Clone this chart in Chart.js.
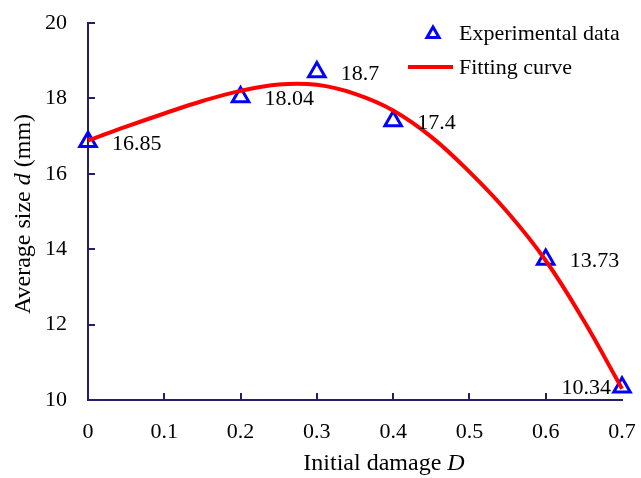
<!DOCTYPE html>
<html><head><meta charset="utf-8">
<script src="https://cdn.jsdelivr.net/npm/chart.js@4.4.1/dist/chart.umd.min.js"></script>
<style>html,body{margin:0;padding:0;background:#fff;}</style>
</head><body>
<canvas id="c" width="641" height="478"></canvas>
<script>
// ---- data ----
const damageX = [0, 0.2, 0.3, 0.4, 0.6, 0.7];
const sizeY = [16.85, 18.04, 18.7, 17.4, 13.73, 10.34];
const sizeLabels = ['16.85', '18.04', '18.7', '17.4', '13.73', '10.34'];
const fitX = [0, 0.05, 0.1, 0.15, 0.2, 0.25, 0.3, 0.35, 0.4, 0.45, 0.5, 0.55, 0.6, 0.65, 0.7];
const fitY = [16.88, 17.25, 17.6, 17.93, 18.2, 18.37, 18.36, 18.12, 17.68, 16.98, 16.05, 14.98, 13.7, 12.1, 10.3];
const xTicks = [0, 0.1, 0.2, 0.3, 0.4, 0.5, 0.6, 0.7];
const yTicks = [10, 12, 14, 16, 18, 20];
const seriesNames = ['Experimental data', 'Fitting curve'];

const AXIS = '#241f6c';
const SERIF = '"Liberation Serif", "Times New Roman", serif';

const decor = {
  id: 'decor',
  afterDraw(chart) {
    const ctx = chart.ctx;
    const xs = chart.scales.x, ys = chart.scales.y;
    const ca = chart.chartArea;
    ctx.save();
    // inward ticks
    ctx.strokeStyle = AXIS; ctx.lineWidth = 2;
    yTicks.forEach(v => {
      if (v === yTicks[0]) return;
      const py = Math.round(ys.getPixelForValue(v));
      ctx.beginPath(); ctx.moveTo(ca.left, py); ctx.lineTo(ca.left + 7, py); ctx.stroke();
    });
    xTicks.forEach(v => {
      if (v === xTicks[0] || v === xTicks[xTicks.length - 1]) return;
      const px = Math.round(xs.getPixelForValue(v));
      ctx.beginPath(); ctx.moveTo(px, ca.bottom); ctx.lineTo(px, ca.bottom - 7); ctx.stroke();
    });
    // point value labels
    ctx.fillStyle = '#000';
    ctx.font = '22px ' + SERIF;
    ctx.textBaseline = 'middle';
    const meta = chart.getDatasetMeta(1);
    meta.data.forEach((pt, i) => {
      const last = i === meta.data.length - 1;
      if (last) {
        ctx.textAlign = 'right';
        ctx.fillText(sizeLabels[i], pt.x - 11, pt.y + 1);
      } else {
        ctx.textAlign = 'left';
        ctx.fillText(sizeLabels[i], pt.x + 24, pt.y + 2);
      }
    });
    // legend
    const ds0 = chart.data.datasets[1], ds1 = chart.data.datasets[0];
    ctx.textAlign = 'left';
    ctx.strokeStyle = ds0.borderColor; ctx.lineWidth = 3;
    const tx = 433, ty = 34, r = 7;
    ctx.beginPath();
    for (let k = 0; k < 3; k++) {
      const a = k * 2 * Math.PI / 3;
      const X = tx + Math.sin(a) * r, Y = ty - Math.cos(a) * r;
      k === 0 ? ctx.moveTo(X, Y) : ctx.lineTo(X, Y);
    }
    ctx.closePath(); ctx.stroke();
    ctx.fillText(seriesNames[0], 459, 34);
    ctx.strokeStyle = ds1.borderColor; ctx.lineWidth = 4;
    ctx.beginPath(); ctx.moveTo(408, 67); ctx.lineTo(453, 67); ctx.stroke();
    ctx.fillText(seriesNames[1], 459, 68);
    // axis titles
    const itf = 'italic 24px ' + SERIF;
    const nf = '24px ' + SERIF;
    function mixed(parts, cx, cy) {
      let total = 0;
      parts.forEach(p => { ctx.font = p[1] ? itf : nf; total += ctx.measureText(p[0]).width; });
      let x = cx - total / 2;
      parts.forEach(p => { ctx.font = p[1] ? itf : nf; ctx.fillText(p[0], x, cy); x += ctx.measureText(p[0]).width; });
    }
    ctx.textAlign = 'left';
    mixed([['Initial damage ', false], ['D', true]], 384, 464);
    ctx.translate(24, 214);
    ctx.rotate(-Math.PI / 2);
    mixed([['Average size ', false], ['d', true], [' (mm)', false]], 0, 0);
    ctx.restore();
  }
};

function zeroPad(s) { s.paddingTop = 0; s.paddingBottom = 0; s.paddingLeft = 0; s.paddingRight = 0; }

new Chart(document.getElementById('c'), {
  type: 'scatter',
  data: {
    datasets: [
      {
        label: seriesNames[1],
        type: 'line',
        data: fitX.map((x, i) => ({ x: x, y: fitY[i] })),
        borderColor: '#ff0000',
        borderWidth: 4,
        pointRadius: 0,
        fill: false,
        tension: 0.4,
        clip: false,
        order: 0
      },
      {
        label: seriesNames[0],
        data: damageX.map((x, i) => ({ x: x, y: sizeY[i] })),
        pointStyle: 'triangle',
        pointRadius: 9.5,
        pointBorderWidth: 3,
        borderColor: '#0000ff',
        pointBorderColor: '#0000ff',
        pointBackgroundColor: 'rgba(0,0,0,0)',
        backgroundColor: 'rgba(0,0,0,0)',
        showLine: false,
        clip: false,
        order: 1
      }
    ]
  },
  options: {
    responsive: false,
    animation: false,
    devicePixelRatio: 1,
    layout: { padding: { left: 0, top: 23, right: 19, bottom: 0 } },
    plugins: { legend: { display: false }, tooltip: { enabled: false } },
    scales: {
      x: {
        type: 'linear', min: 0, max: 0.7,
        afterBuildTicks: s => { s.ticks = xTicks.map(v => ({ value: v })); },
        afterFit: s => { s.height = 78; zeroPad(s); },
        grid: { display: false, drawTicks: false },
        border: { display: true, color: AXIS, width: 2 },
        ticks: { color: '#000', padding: 19, font: { family: SERIF, size: 22 }, callback: v => String(v) }
      },
      y: {
        type: 'linear', min: 10, max: 20,
        afterBuildTicks: s => { s.ticks = yTicks.map(v => ({ value: v })); },
        afterFit: s => { s.width = 88; zeroPad(s); },
        grid: { display: false, drawTicks: false },
        border: { display: true, color: AXIS, width: 2 },
        ticks: { color: '#000', padding: 21, font: { family: SERIF, size: 22 }, callback: v => String(v) }
      }
    }
  },
  plugins: [decor]
});
</script>
</body></html>
